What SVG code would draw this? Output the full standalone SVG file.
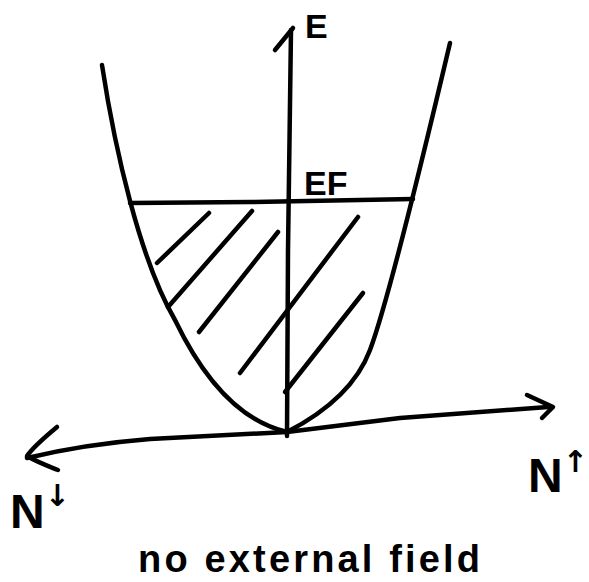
<svg xmlns="http://www.w3.org/2000/svg" width="589" height="582" viewBox="0 0 589 582">
  <style>
    .ink { fill: none; stroke: #000; stroke-width: 4.5; stroke-linecap: round; stroke-linejoin: round; }
    .lbl { font-family: "Liberation Sans", Arial, sans-serif; fill: #000; font-weight: bold; }
    .arr { font-family: "DejaVu Sans", sans-serif; font-weight: bold; }
  </style>
  <rect width="589" height="582" fill="#fff"/>
  <g id="connectors">
    <!-- energy axis -->
    <path class="ink" d="M287,436 L288,250 L291,30"/>
    <path class="ink" d="M275,50 L293,28"/>
    <!-- N axis -->
    <path class="ink" d="M27,458 C60,450 100,443 150,439 L287,432 L400,418 L548,407"/>
    <path class="ink" d="M57,427 C45,437 33,447 27,456 C37,462 48,466 58,470"/>
    <path class="ink" d="M527,395 L553,407 L542,418"/>
  </g>
  <g id="parabola">
    <path class="ink" d="M102,65 C115,150 140,260 175,320 C200,372 235,420 287,432"/>
    <path class="ink" d="M287,432 C320,415 355,390 370,350 C385,310 420,170 450,43"/>
  </g>
  <g id="fermi-level">
    <path class="ink" d="M130,203 L250,202 L413,199"/>
  </g>
  <g id="hatching">
    <path class="ink" d="M157,263 L209,213"/>
    <path class="ink" d="M168,307 L252,211"/>
    <path class="ink" d="M199,332 L278,232"/>
    <path class="ink" d="M240,373 L358,217"/>
    <path class="ink" d="M285,392 L363,293"/>
  </g>
  <g id="label-E">
    <text class="lbl" x="305" y="38" font-size="34">E</text>
  </g>
  <g id="label-EF">
    <text class="lbl" x="304" y="195" font-size="34">EF</text>
  </g>
  <g id="label-Ndown">
    <text class="lbl" x="10" y="528" font-size="48">N<tspan class="arr" font-size="30" dy="-22">↓</tspan></text>
  </g>
  <g id="label-Nup">
    <text class="lbl" x="528" y="492" font-size="48">N<tspan class="arr" font-size="30" dy="-20">↑</tspan></text>
  </g>
  <g id="caption">
    <text class="lbl" x="138" y="572" font-size="38" textLength="342" lengthAdjust="spacing">no external field</text>
  </g>
</svg>
